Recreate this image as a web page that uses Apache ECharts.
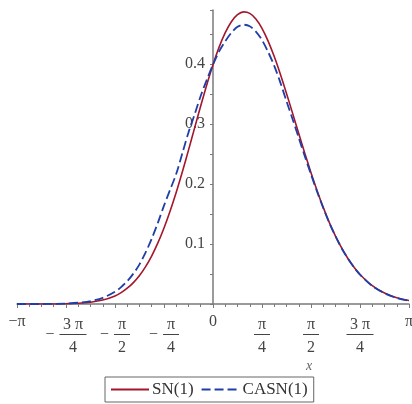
<!DOCTYPE html>
<html>
<head>
<meta charset="utf-8">
<script src="https://cdn.jsdelivr.net/npm/echarts@6/dist/echarts.min.js"></script>
<style>html,body{margin:0;padding:0;background:#fff;}#c{width:412px;height:404px;}</style>
</head>
<body>
<div id="c"></div>
<script>
const xValues = [-3.1416,-2.9452,-2.7489,-2.5525,-2.3562,-2.1598,-1.9635,-1.7671,-1.5708,-1.4726,-1.3744,-1.2763,-1.1781,-1.0799,-0.9817,-0.8836,-0.7854,-0.6872,-0.5890,-0.4909,-0.3927,-0.2945,-0.1963,-0.0982,0,0.0982,0.1963,0.2945,0.3927,0.4909,0.5890,0.6872,0.7854,0.8836,0.9817,1.0799,1.1781,1.2763,1.3744,1.4726,1.5708,1.6690,1.7671,1.8653,1.9635,2.0617,2.1598,2.2580,2.3562,2.5525,2.7489,2.9452,3.1416];
const snValues = [0,0,0,0,0.0005,0.0012,0.0029,0.0065,0.0135,0.0190,0.0263,0.0357,0.0476,0.0624,0.0804,0.1018,0.1267,0.1550,0.1864,0.2205,0.2565,0.2935,0.3304,0.3660,0.3989,0.4281,0.4522,0.4705,0.4821,0.4868,0.4844,0.4751,0.4595,0.4382,0.4124,0.3830,0.3510,0.3177,0.2840,0.2508,0.2189,0.1888,0.1610,0.1357,0.1132,0.0934,0.0762,0.0616,0.0492,0.0305,0.0182,0.0104,0.0057];
const casnValues = [0,0,0,0.0003,0.0008,0.0021,0.0048,0.0102,0.0205,0.0282,0.038,0.0506,0.066,0.0859,0.109,0.1353,0.164,0.1905,0.217,0.2515,0.286,0.316,0.347,0.374,0.399,0.421,0.438,0.452,0.462,0.4655,0.463,0.454,0.440,0.420,0.397,0.369,0.338,0.308,0.277,0.246,0.216,0.187,0.160,0.135,0.113,0.093,0.076,0.0614,0.049,0.030,0.018,0.010,0.0055];
const seriesNames = ['SN(1)', 'CASN(1)'];
// x tick labels at multiples of pi/4: [sign, numerator, denominator]
const xTickLabels = [
  ['−','π',''], ['−','3 π','4'], ['−','π','2'], ['−','π','4'], ['','0',''],
  ['','π','4'], ['','π','2'], ['','3 π','4'], ['','π','']
];
const yTickLabels = ['', '0.1', '0.2', '0.3', '0.4'];
const xAxisName = 'x';

const FONT = '"Liberation Serif", "DejaVu Serif", serif';
const AX = '#7a7a7a';
const TXT = '#444';
const step = Math.PI / 4;
const GRID_LEFT = 17;

function xFmt(v) {
  const k = Math.round(v / step) + 4;
  const t = xTickLabels[k];
  if (!t) return '';
  if (!t[2]) {
    return '{one|' + t[0] + t[1] + '}';
  }
  const wide = t[1].length > 1;
  const sp = t[0] ? '{sp|}' : '';
  const barTag = wide ? 'barw' : 'bar';
  return sp + '{num|' + t[1] + '}\n' + (t[0] ? '{m|' + t[0] + '}' : '') + '{' + barTag + '|}\n' + sp + '{den|' + t[2] + '}';
}

const chart = echarts.init(document.getElementById('c'), null, {renderer: 'canvas'});
chart.setOption({
  animation: false,
  backgroundColor: '#fff',
  grid: {left: GRID_LEFT, right: 3, top: 10, bottom: 100, containLabel: false, outerBoundsMode: 'none'},
  xAxis: {
    type: 'value', min: -Math.PI, max: Math.PI, interval: step,
    axisLine: {onZero: true, lineStyle: {color: AX, width: 1.5}},
    axisTick: {show: true, length: 4, lineStyle: {color: AX}},
    minorTick: {show: true, splitNumber: 4, length: 3, lineStyle: {color: AX}},
    splitLine: {show: false},
    axisLabel: {
      margin: 13, formatter: xFmt, hideOverlap: false, showMinLabel: true, showMaxLabel: true,
      color: TXT, fontFamily: FONT, fontSize: 16, verticalAlign: 'top',
      rich: {
        one: {fontFamily: FONT, fontSize: 16, color: TXT, lineHeight: 10},
        num: {fontFamily: FONT, fontSize: 16, color: TXT, lineHeight: 15},
        den: {fontFamily: FONT, fontSize: 16, color: TXT, lineHeight: 21},
        m: {fontFamily: FONT, fontSize: 16, color: TXT, lineHeight: 5, width: 14, align: 'left'},
        sp: {width: 14, height: 1},
        bar: {width: 16, height: 1, backgroundColor: TXT, lineHeight: 5},
        barw: {width: 27, height: 1, backgroundColor: TXT, lineHeight: 5}
      }
    }
  },
  yAxis: {
    type: 'value', min: 0, max: 0.49, interval: 0.1,
    axisLine: {show: true, onZero: false, lineStyle: {color: AX, width: 1.5}},
    axisTick: {show: true, length: 3, lineStyle: {color: AX}},
    minorTick: {show: true, splitNumber: 2, length: 3, lineStyle: {color: AX}},
    splitLine: {show: false},
    axisLabel: {
      margin: 8, showMaxLabel: false,
      formatter: function (v) { const k = Math.round(v * 10); return yTickLabels[k] || ''; },
      color: TXT, fontFamily: FONT, fontSize: 16
    }
  },
  legend: {
    left: 105, top: 377, orient: 'horizontal',
    data: seriesNames,
    itemWidth: 38, itemHeight: 12, itemGap: 7,
    itemStyle: {opacity: 0},
    borderColor: '#666', borderWidth: 1, padding: [4, 6, 4, 5],
    textStyle: {fontFamily: FONT, fontSize: 17, color: '#333', padding: [0, 0, 0, -2]}
  },
  graphic: [{
    type: 'text', left: 306, top: 359,
    style: {text: xAxisName, font: 'italic 14px ' + FONT, fill: '#666'}
  }],
  series: [
    {
      name: seriesNames[0], type: 'line', showSymbol: false, symbol: 'none', smooth: 0.3,
      data: xValues.map((x, i) => [x, snValues[i]]),
      lineStyle: {color: '#a3162c', width: 1.6},
      itemStyle: {color: '#a3162c'}
    },
    {
      name: seriesNames[1], type: 'line', showSymbol: false, symbol: 'none', smooth: 0.3,
      data: xValues.map((x, i) => [x, casnValues[i]]),
      lineStyle: {color: '#1f3fa8', width: 1.8, type: [9, 4]},
      itemStyle: {color: '#1f3fa8'}
    }
  ]
});
// place the y axis where x = 0 through the x scale
const px0 = chart.convertToPixel({xAxisIndex: 0}, 0);
const gridRect = chart.getModel().getComponent('grid').coordinateSystem.getRect();
chart.setOption({yAxis: {offset: gridRect.x - px0}});
</script>
</body>
</html>
